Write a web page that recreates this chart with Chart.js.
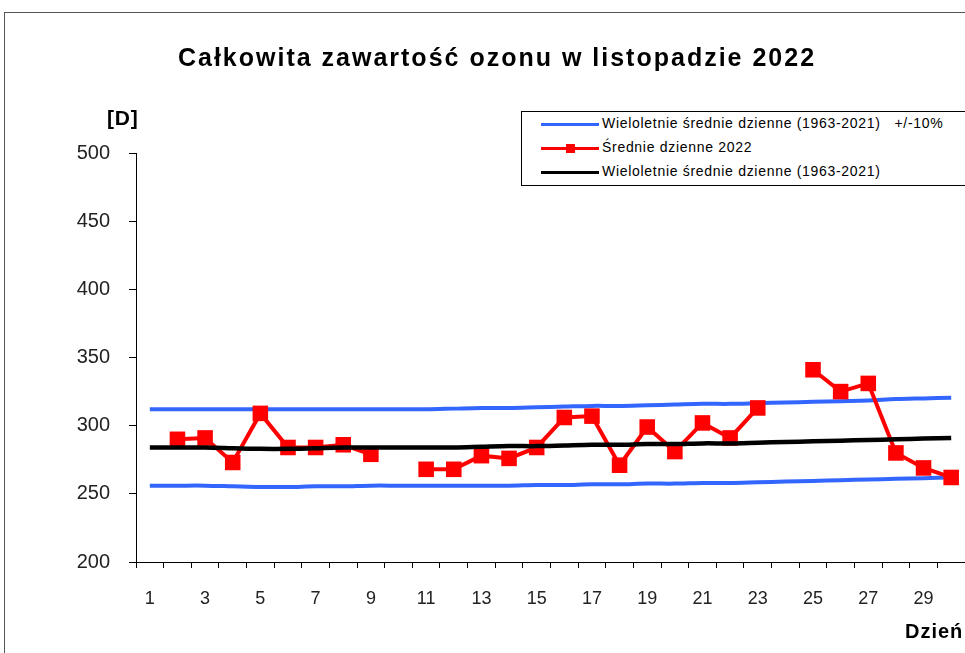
<!DOCTYPE html>
<html>
<head>
<meta charset="utf-8">
<script src="https://cdn.jsdelivr.net/npm/chart.js@4/dist/chart.umd.min.js"></script>
<style>
  body { margin: 0; width: 965px; height: 653px; overflow: hidden; background: #fff; position: relative; font-family: "Liberation Sans", Arial, sans-serif; }
  #frame { position: absolute; left: 4px; top: 12px; width: 1000px; height: 700px; border: 1px solid #555; }
  #wrap { position: absolute; left: 0; top: 0; width: 976px; height: 653px; }
  #title { position: absolute; left: 0; width: 994px; top: 43px; text-align: center; font-weight: bold; font-size: 25px; letter-spacing: 2px; color: #000; }
  #unit { position: absolute; left: 107px; top: 106px; font-weight: bold; font-size: 21px; letter-spacing: 0.8px; }
  #xname { position: absolute; left: 905px; top: 620px; font-weight: bold; font-size: 20px; letter-spacing: 1px; white-space: nowrap; }
  #legend { position: absolute; left: 521px; top: 111px; width: 480px; height: 73px; border: 1px solid #000; background: #fff; }
  .row { position: absolute; left: 0; height: 24px; width: 100%; }
  .sample { position: absolute; left: 19px; width: 58px; height: 3px; }
  .mark { position: absolute; left: 44px; width: 9px; height: 9px; }
  .txt { position: absolute; left: 80px; font-size: 14px; white-space: pre; letter-spacing: 0.7px; color: #000; }
</style>
</head>
<body>
<div id="frame"></div>
<div id="wrap"><canvas id="ozoneChart" width="976" height="653"></canvas></div>
<div id="title">Całkowita zawartość ozonu w listopadzie 2022</div>
<div id="unit">[D]</div>
<div id="xname">Dzień</div>
<div id="legend"></div>

<script>
// days of November
const dayLabels = ['1', '2', '3', '4', '5', '6', '7', '8', '9', '10',
    '11', '12', '13', '14', '15', '16', '17', '18', '19', '20',
    '21', '22', '23', '24', '25', '26', '27', '28', '29', '30'];

// daily means 2022 (null = no measurement)
const daily2022 = [null, 290, 291, 273, 309, 284, 284, 286, 279, null,
    268, 268, 278, 276, 284, 306, 307, 271, 299, 281,
    302, 291, 313, null, 341, 325, 331, 280, 269, 262];

// long-term daily means 1963-2021
const longTermMean = [284, 284, 284, 283.5, 283, 283, 283.5, 284, 284, 284,
    284, 284, 284.5, 285, 285, 285.5, 286, 286, 286.5, 286.5,
    287, 287, 287.5, 288, 288.5, 289, 289.5, 290, 290.5, 291];

// +10% / -10% band
const upperBand = [312, 312, 312, 312, 312, 312, 312, 312, 312, 312,
    312, 312.5, 313, 313, 313.5, 314, 314.5, 314.5, 315, 315.5,
    316, 316, 316.5, 317, 317.5, 318, 318.5, 319.5, 320, 320.5];
const lowerBand = [256, 256, 256, 255.5, 255, 255, 255.5, 255.5, 256, 256,
    256, 256, 256, 256, 256.5, 256.5, 257, 257, 257.5, 257.5,
    258, 258, 258.5, 259, 259.5, 260, 260.5, 261, 261.5, 262];

const yTicks = [200, 250, 300, 350, 400, 450, 500];

const BLUE = "#3366ff";
const RED = "#ff0000";

const datasets = [
    {
        label: "Wieloletnie średnie dzienne (1963-2021)   +/-10%",
        data: upperBand,
        borderColor: BLUE,
        borderWidth: 4,
        pointRadius: 0,
        tension: 0.3,
        order: 3
    },
    {
        label: "",
        data: lowerBand,
        borderColor: BLUE,
        borderWidth: 4,
        pointRadius: 0,
        tension: 0.3,
        order: 3
    },
    {
        label: "Średnie dzienne 2022",
        data: daily2022,
        borderColor: RED,
        backgroundColor: RED,
        borderWidth: 4,
        pointStyle: "rect",
        pointRadius: 11,
        pointBorderWidth: 0,
        spanGaps: false,
        tension: 0,
        order: 2
    },
    {
        label: "Wieloletnie średnie dzienne (1963-2021)",
        data: longTermMean,
        borderColor: "#000",
        borderWidth: 4.5,
        pointRadius: 0,
        tension: 0.3,
        order: 1
    }
];

new Chart(document.getElementById("ozoneChart"), {
    type: "line",
    data: { labels: dayLabels, datasets: datasets },
    options: {
        responsive: false,
        animation: false,
        layout: { padding: { top: 153, right: 0, left: 0, bottom: 0 } },
        plugins: { legend: { display: false }, tooltip: { enabled: false } },
        scales: {
            x: {
                type: "category",
                offset: true,
                grid: { offset: true, drawOnChartArea: false, drawTicks: true, tickLength: 6, color: "#000" },
                border: { display: true, color: "#000", width: 1 },
                ticks: {
                    autoSkip: false,
                    maxRotation: 0,
                    padding: 20,
                    color: "#222",
                    font: { family: "Liberation Sans", size: 18 },
                    callback: (v, i) => (i % 2 === 0 ? dayLabels[i] : "")
                },
                afterFit: scale => { scale.height = 91; }
            },
            y: {
                min: 200,
                max: 500,
                afterBuildTicks: scale => { scale.ticks = yTicks.map(v => ({ value: v })); },
                grid: { drawOnChartArea: false, drawTicks: true, tickLength: 7, color: "#000" },
                border: { display: true, color: "#000", width: 1 },
                ticks: {
                    padding: 19,
                    color: "#222",
                    font: { family: "Liberation Sans", size: 20 }
                },
                afterFit: scale => { scale.width = 136; }
            }
        }
    }
});

// legend box (Excel style)
const legendBox = document.getElementById("legend");
const legendRows = [datasets[0], datasets[2], datasets[3]];
legendRows.forEach((ds, i) => {
    const row = document.createElement("div");
    row.className = "row";
    row.style.top = (i * 24) + "px";
    let html = `<div class="sample" style="top:11px;background:${ds.borderColor}"></div>`;
    if (ds.pointStyle === "rect") {
        html += `<div class="mark" style="top:8px;background:${ds.borderColor}"></div>`;
    }
    html += `<div class="txt" style="top:3px">${ds.label}</div>`;
    row.innerHTML = html;
    legendBox.appendChild(row);
});
</script>
</body>
</html>
